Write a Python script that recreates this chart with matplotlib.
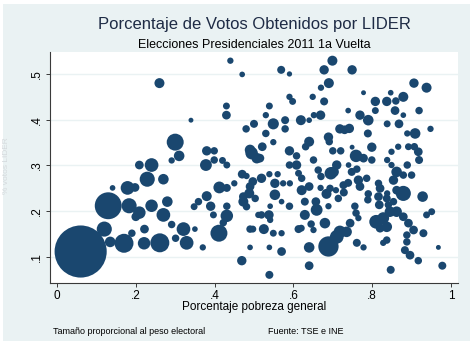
import matplotlib
matplotlib.use("Agg")
import matplotlib.pyplot as plt
from matplotlib.patches import Rectangle

# pobreza (x), votos LIDER (y), peso electoral en miles de votantes
pobreza = [
    0.060, 0.130, 0.120, 0.135, 0.170, 0.190, 0.221, 0.222, 0.261, 0.183,
    0.209, 0.200, 0.240, 0.270, 0.280, 0.291, 0.301, 0.321, 0.329, 0.350,
    0.370, 0.179, 0.198, 0.141, 0.229, 0.240, 0.209, 0.270, 0.300, 0.310,
    0.291, 0.260, 0.340, 0.440, 0.470, 0.430, 0.430, 0.500, 0.480, 0.380,
    0.399, 0.378, 0.399, 0.420, 0.431, 0.494, 0.507, 0.470, 0.481, 0.450,
    0.412, 0.431, 0.490, 0.488, 0.473, 0.481, 0.380, 0.359, 0.348, 0.390,
    0.431, 0.397, 0.431, 0.422, 0.411, 0.490, 0.490, 0.469, 0.511, 0.473,
    0.699, 0.678, 0.749, 0.569, 0.590, 0.690, 0.670, 0.906, 0.938, 0.778,
    0.847, 0.590, 0.598, 0.649, 0.678, 0.808, 0.837, 0.860, 0.879, 0.539,
    0.808, 0.858, 0.919, 0.739, 0.879, 0.769, 0.790, 0.530, 0.579, 0.619,
    0.640, 0.652, 0.669, 0.549, 0.579, 0.530, 0.838, 0.868, 0.948, 0.909,
    0.889, 0.718, 0.742, 0.730, 0.789, 0.689, 0.691, 0.640, 0.631, 0.549,
    0.521, 0.515, 0.590, 0.608, 0.700, 0.720, 0.749, 0.759, 0.778, 0.799,
    0.799, 0.849, 0.866, 0.907, 0.917, 0.919, 0.838, 0.849, 0.889, 0.651,
    0.710, 0.695, 0.740, 0.761, 0.663, 0.670, 0.590, 0.608, 0.613, 0.560,
    0.539, 0.519, 0.497, 0.553, 0.574, 0.591, 0.621, 0.621, 0.640, 0.553,
    0.570, 0.590, 0.541, 0.669, 0.684, 0.708, 0.728, 0.739, 0.765, 0.786,
    0.769, 0.790, 0.789, 0.816, 0.838, 0.854, 0.879, 0.900, 0.862, 0.879,
    0.928, 0.854, 0.841, 0.818, 0.629, 0.657, 0.659, 0.629, 0.689, 0.756,
    0.759, 0.765, 0.519, 0.538, 0.541, 0.525, 0.549, 0.570, 0.497, 0.613,
    0.620, 0.645, 0.651, 0.680, 0.689, 0.710, 0.718, 0.735, 0.744, 0.761,
    0.778, 0.640, 0.570, 0.539, 0.640, 0.539, 0.810, 0.828, 0.837, 0.820,
    0.862, 0.879, 0.892, 0.905, 0.930, 0.888, 0.951, 0.938, 0.837, 0.828,
    0.888, 0.883, 0.896, 0.917, 0.847, 0.968, 0.978, 0.503, 0.845, 0.820,
    0.816, 0.837, 0.748, 0.727, 0.693, 0.714, 0.862, 0.490, 0.892, 0.702,
]
votos = [
    0.112, 0.212, 0.161, 0.133, 0.130, 0.152, 0.130, 0.161, 0.131, 0.212,
    0.197, 0.188, 0.212, 0.192, 0.221, 0.171, 0.141, 0.161, 0.131, 0.161,
    0.121, 0.251, 0.252, 0.251, 0.270, 0.301, 0.301, 0.270, 0.351, 0.321,
    0.311, 0.480, 0.399, 0.529, 0.499, 0.430, 0.410, 0.391, 0.380, 0.332,
    0.332, 0.301, 0.312, 0.311, 0.301, 0.327, 0.316, 0.281, 0.277, 0.261,
    0.252, 0.251, 0.254, 0.239, 0.221, 0.210, 0.233, 0.221, 0.210, 0.211,
    0.211, 0.192, 0.190, 0.175, 0.152, 0.161, 0.121, 0.092, 0.192, 0.232,
    0.529, 0.509, 0.509, 0.509, 0.500, 0.480, 0.470, 0.480, 0.470, 0.459,
    0.459, 0.450, 0.440, 0.450, 0.440, 0.440, 0.440, 0.441, 0.450, 0.430,
    0.420, 0.420, 0.420, 0.420, 0.410, 0.410, 0.399, 0.410, 0.399, 0.399,
    0.399, 0.410, 0.410, 0.391, 0.380, 0.370, 0.391, 0.391, 0.380, 0.370,
    0.370, 0.380, 0.381, 0.378, 0.370, 0.362, 0.352, 0.352, 0.341, 0.351,
    0.341, 0.316, 0.332, 0.321, 0.332, 0.332, 0.340, 0.321, 0.316, 0.340,
    0.312, 0.330, 0.341, 0.341, 0.330, 0.312, 0.312, 0.301, 0.301, 0.312,
    0.301, 0.283, 0.301, 0.292, 0.290, 0.276, 0.301, 0.301, 0.283, 0.281,
    0.281, 0.272, 0.265, 0.261, 0.261, 0.261, 0.272, 0.246, 0.254, 0.236,
    0.221, 0.211, 0.211, 0.251, 0.238, 0.246, 0.241, 0.262, 0.268, 0.272,
    0.254, 0.238, 0.225, 0.261, 0.239, 0.268, 0.279, 0.279, 0.246, 0.239,
    0.232, 0.221, 0.214, 0.214, 0.221, 0.221, 0.203, 0.192, 0.211, 0.211,
    0.196, 0.185, 0.192, 0.192, 0.181, 0.161, 0.152, 0.152, 0.161, 0.161,
    0.163, 0.172, 0.159, 0.174, 0.123, 0.144, 0.155, 0.155, 0.174, 0.131,
    0.121, 0.121, 0.112, 0.121, 0.081, 0.061, 0.177, 0.185, 0.166, 0.163,
    0.199, 0.188, 0.174, 0.159, 0.152, 0.148, 0.199, 0.192, 0.137, 0.131,
    0.133, 0.115, 0.104, 0.092, 0.072, 0.121, 0.081, 0.228, 0.199, 0.250,
    0.232, 0.228, 0.286, 0.257, 0.250, 0.228, 0.286, 0.334, 0.341, 0.286,
]
peso = [
    676, 178, 54, 25, 87, 11, 36, 16, 87, 54,
    36, 16, 36, 44, 25, 11, 11, 44, 44, 5,
    7, 44, 16, 5, 54, 44, 16, 25, 69, 25,
    7, 22, 3, 7, 5, 9, 16, 13, 11, 19,
    11, 32, 11, 9, 9, 36, 25, 16, 7, 7,
    32, 13, 16, 22, 22, 11, 22, 11, 9, 19,
    11, 9, 36, 11, 69, 11, 5, 19, 7, 16,
    22, 19, 19, 13, 4, 22, 7, 19, 22, 3,
    5, 7, 9, 7, 13, 19, 19, 11, 22, 9,
    9, 16, 11, 5, 5, 19, 25, 7, 13, 22,
    5, 7, 19, 28, 11, 11, 9, 16, 7, 25,
    7, 19, 19, 16, 13, 19, 11, 22, 11, 7,
    16, 16, 19, 11, 11, 11, 3, 36, 16, 19,
    11, 7, 7, 11, 16, 13, 7, 7, 11, 11,
    19, 36, 5, 11, 11, 11, 11, 19, 9, 7,
    7, 19, 16, 19, 7, 7, 11, 22, 16, 25,
    5, 11, 5, 7, 22, 7, 13, 13, 19, 11,
    16, 11, 11, 11, 7, 19, 11, 11, 16, 54,
    25, 11, 11, 16, 13, 16, 32, 22, 7, 11,
    11, 7, 11, 19, 7, 22, 9, 7, 9, 13,
    9, 11, 7, 25, 100, 44, 36, 25, 16, 13,
    7, 25, 16, 5, 16, 13, 44, 32, 25, 16,
    25, 16, 16, 16, 13, 11, 9, 9, 11, 7,
    11, 13, 16, 11, 13, 3, 13, 11, 25, 16,
    16, 13, 13, 13, 11, 11, 25, 25, 9, 25,
]

x_ticks = [0, 0.2, 0.4, 0.6, 0.8, 1]
x_ticklabels = ["0", ".2", ".4", ".6", ".8", "1"]
y_ticks = [0.1, 0.2, 0.3, 0.4, 0.5]
y_ticklabels = [".1", ".2", ".3", ".4", ".5"]

BG = "#EAF2F3"
NAVY = "#1A476F"

plt.rcParams["font.family"] = ["Liberation Sans", "DejaVu Sans"]

fig = plt.figure(figsize=(4.74, 3.46), dpi=100, facecolor="white")
fig.patches.append(Rectangle((3 / 474, 5 / 346), 467 / 474, 337 / 346,
                             transform=fig.transFigure, facecolor=BG,
                             edgecolor="none", zorder=-1))

ax = fig.add_axes([50 / 474, 63 / 346, 408 / 474, 231 / 346])
ax.set_zorder(1)
ax.set_facecolor("white")

# area proporcional al peso (un poco de margen para los puntos pequenos)
sizes = [(p + 3) * 1.44 ** 2 for p in peso]
ax.scatter(pobreza, votos, s=sizes, color=NAVY, linewidths=0, zorder=3)

ax.set_xlim(-0.0178, 1.0178)
ax.set_ylim(0.0432, 0.548)
ax.set_xticks(x_ticks)
ax.set_xticklabels(x_ticklabels)
ax.set_yticks(y_ticks)
ax.set_yticklabels(y_ticklabels, rotation=90, va="center")
ax.grid(axis="y", color=BG, lw=1.0)
ax.set_axisbelow(True)

for side in ["top", "right"]:
    ax.spines[side].set_visible(False)
for side in ["left", "bottom"]:
    ax.spines[side].set_color("#3a3a3a")
    ax.spines[side].set_linewidth(0.8)
ax.tick_params(direction="out", length=3, width=0.7, color="#3a3a3a",
               labelsize=8.5, labelcolor="black", pad=2)

fig.text(254 / 474, 1 - 25 / 346, "Porcentaje de Votos Obtenidos por LIDER",
         ha="center", va="center", fontsize=12, color="#1e2b45")
fig.text(254 / 474, 1 - 45 / 346, "Elecciones Presidenciales 2011 1a Vuelta",
         ha="center", va="center", fontsize=9, color="black")
fig.text(254 / 474, 1 - 307 / 346, "Porcentaje pobreza general",
         ha="center", va="center", fontsize=8.5, color="black")
fig.text(53 / 474, 1 - 332 / 346, "Tamaño proporcional al peso electoral",
         ha="left", va="center", fontsize=6.5, color="black")
fig.text(268 / 474, 1 - 332 / 346, "Fuente: TSE e INE",
         ha="left", va="center", fontsize=6.5, color="black")
fig.text(7 / 474, 1 - 166 / 346, "% votos LIDER", rotation=90,
         ha="center", va="center", fontsize=6, color="#d4d9dc")

fig.savefig("out.png", dpi=100, facecolor="white")
